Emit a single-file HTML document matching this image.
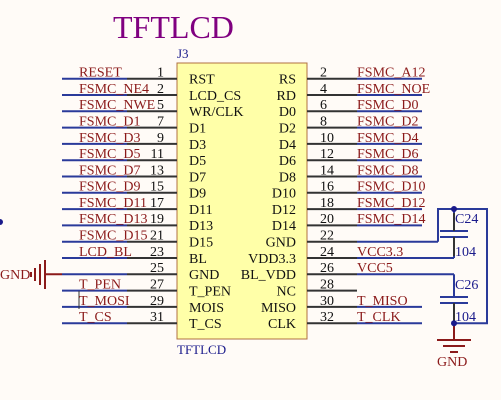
<!DOCTYPE html>
<html><head><meta charset="utf-8"><style>
html,body{margin:0;padding:0;background:#fffbf7;}
svg{display:block;}
text{font-family:"Liberation Serif",serif;font-size:14px;}
.n{fill:#8b1a1a;}
.p{fill:#111;}
.b{fill:#1a1a8b;}
</style></head><body>
<svg width="501" height="400" viewBox="0 0 501 400" xmlns="http://www.w3.org/2000/svg">
<rect width="501" height="400" fill="#fffbf7"/>
<text x="113" y="38" style="font-size:32px" fill="#800080">TFTLCD</text>
<text x="177" y="58" class="b" style="font-size:13px">J3</text>
<rect x="177" y="63" width="130" height="276" fill="#ffffa8" stroke="#b07040" stroke-width="1"/>
<text x="177" y="354" class="b" style="font-size:13px">TFTLCD</text>

<g stroke-width="2">
<!-- left wires -->
<g stroke="#2a3a9a">
<line x1="62" y1="78.7" x2="127" y2="78.7"/><line x1="62" y1="95" x2="127" y2="95"/><line x1="62" y1="111.3" x2="127" y2="111.3"/><line x1="62" y1="127.6" x2="127" y2="127.6"/><line x1="62" y1="143.9" x2="127" y2="143.9"/><line x1="62" y1="160.2" x2="127" y2="160.2"/><line x1="62" y1="176.5" x2="127" y2="176.5"/><line x1="62" y1="192.8" x2="127" y2="192.8"/><line x1="62" y1="209.1" x2="127" y2="209.1"/><line x1="62" y1="225.4" x2="127" y2="225.4"/><line x1="62" y1="241.7" x2="127" y2="241.7"/><line x1="62" y1="258" x2="127" y2="258"/><line x1="62" y1="274.3" x2="127" y2="274.3"/><line x1="62" y1="290.6" x2="127" y2="290.6"/><line x1="62" y1="306.9" x2="127" y2="306.9"/><line x1="62" y1="323.2" x2="127" y2="323.2"/>
</g>
<g stroke="#333">
<line x1="127" y1="78.7" x2="177" y2="78.7"/><line x1="127" y1="95" x2="177" y2="95"/><line x1="127" y1="111.3" x2="177" y2="111.3"/><line x1="127" y1="127.6" x2="177" y2="127.6"/><line x1="127" y1="143.9" x2="177" y2="143.9"/><line x1="127" y1="160.2" x2="177" y2="160.2"/><line x1="127" y1="176.5" x2="177" y2="176.5"/><line x1="127" y1="192.8" x2="177" y2="192.8"/><line x1="127" y1="209.1" x2="177" y2="209.1"/><line x1="127" y1="225.4" x2="177" y2="225.4"/><line x1="127" y1="241.7" x2="177" y2="241.7"/><line x1="127" y1="258" x2="177" y2="258"/><line x1="127" y1="274.3" x2="177" y2="274.3"/><line x1="127" y1="290.6" x2="177" y2="290.6"/><line x1="127" y1="306.9" x2="177" y2="306.9"/><line x1="127" y1="323.2" x2="177" y2="323.2"/>
<!-- right black -->
<line x1="307" y1="78.7" x2="357" y2="78.7"/><line x1="307" y1="95" x2="357" y2="95"/><line x1="307" y1="111.3" x2="357" y2="111.3"/><line x1="307" y1="127.6" x2="357" y2="127.6"/><line x1="307" y1="143.9" x2="357" y2="143.9"/><line x1="307" y1="160.2" x2="357" y2="160.2"/><line x1="307" y1="176.5" x2="357" y2="176.5"/><line x1="307" y1="192.8" x2="357" y2="192.8"/><line x1="307" y1="209.1" x2="357" y2="209.1"/><line x1="307" y1="225.4" x2="357" y2="225.4"/><line x1="307" y1="241.7" x2="357" y2="241.7"/><line x1="307" y1="258" x2="357" y2="258"/><line x1="307" y1="274.3" x2="357" y2="274.3"/><line x1="307" y1="290.6" x2="357" y2="290.6"/><line x1="307" y1="306.9" x2="357" y2="306.9"/><line x1="307" y1="323.2" x2="357" y2="323.2"/>
</g>
<g stroke="#2a3a9a">
<line x1="357" y1="78.7" x2="422" y2="78.7"/><line x1="357" y1="95" x2="422" y2="95"/><line x1="357" y1="111.3" x2="422" y2="111.3"/><line x1="357" y1="127.6" x2="422" y2="127.6"/><line x1="357" y1="143.9" x2="422" y2="143.9"/><line x1="357" y1="160.2" x2="422" y2="160.2"/><line x1="357" y1="176.5" x2="422" y2="176.5"/><line x1="357" y1="192.8" x2="422" y2="192.8"/><line x1="357" y1="209.1" x2="422" y2="209.1"/><line x1="357" y1="225.4" x2="422" y2="225.4"/>
<line x1="357" y1="241.7" x2="438" y2="241.7"/><line x1="357" y1="258" x2="454" y2="258"/><line x1="357" y1="274.3" x2="454" y2="274.3"/>
<line x1="357" y1="306.9" x2="422" y2="306.9"/><line x1="357" y1="323.2" x2="422" y2="323.2"/>
<!-- cap network -->
<polyline fill="none" points="438,241.7 438,209 487,209 487,323.2 454,323.2"/>
<line x1="454" y1="209" x2="454" y2="231"/><line x1="454" y1="237" x2="454" y2="258"/>
<line x1="440" y1="231" x2="468" y2="231"/><line x1="440" y1="237" x2="468" y2="237"/>
<line x1="454" y1="274.3" x2="454" y2="297"/><line x1="454" y1="303" x2="454" y2="323.2"/>
<line x1="440" y1="297" x2="468" y2="297"/><line x1="440" y1="303" x2="468" y2="303"/>
</g>
<g stroke="#333"><line x1="454" y1="213" x2="454" y2="231"/><line x1="454" y1="237" x2="454" y2="256"/><line x1="454" y1="303" x2="454" y2="322"/></g>
<!-- GND bottom right -->
<g stroke="#8b1a1a">
<line x1="454" y1="324" x2="454" y2="340"/><line x1="437" y1="340" x2="471" y2="340"/><line x1="443" y1="346" x2="465" y2="346"/><line x1="450" y1="352" x2="458" y2="352"/>
<!-- GND left -->
<line x1="45" y1="274.3" x2="62" y2="274.3"/><line x1="45" y1="260" x2="45" y2="289"/><line x1="40" y1="264" x2="40" y2="285"/><line x1="35" y1="268" x2="35" y2="281"/><line x1="31" y1="272" x2="31" y2="277"/>
</g>
<line x1="79" y1="291" x2="79" y2="309" stroke="#333" stroke-width="1"/>
</g>
<circle cx="454" cy="209" r="3" fill="#1a1a8b"/><circle cx="454" cy="323.2" r="3" fill="#1a1a8b"/>
<circle cx="0" cy="222" r="3" fill="#1a1a8b"/>
<text x="0" y="279" class="n">GND</text>
<text x="437" y="366" class="n">GND</text>
<text x="455" y="223" class="b">C24</text><text x="455" y="256" class="b">104</text>
<text x="455" y="289" class="b">C26</text><text x="455" y="321" class="b">104</text>

<!-- left net labels -->
<g class="n">
<text x="79" y="76.5">RESET</text><text x="79" y="93">FSMC_NE4</text><text x="79" y="109">FSMC_NWE</text><text x="79" y="125.5">FSMC_D1</text><text x="79" y="142">FSMC_D3</text><text x="79" y="158">FSMC_D5</text><text x="79" y="174.5">FSMC_D7</text><text x="79" y="190.5">FSMC_D9</text><text x="79" y="207">FSMC_D11</text><text x="79" y="223">FSMC_D13</text><text x="79" y="239.5">FSMC_D15</text><text x="79" y="256">LCD_BL</text><text x="79" y="288.5">T_PEN</text><text x="79" y="305">T_MOSI</text><text x="79" y="321">T_CS</text>
</g>
<g class="p" text-anchor="end">
<text x="164" y="76.5">1</text><text x="164" y="93">2</text><text x="164" y="109">5</text><text x="164" y="125.5">7</text><text x="164" y="142">9</text><text x="164" y="158">11</text><text x="164" y="174.5">13</text><text x="164" y="190.5">15</text><text x="164" y="207">17</text><text x="164" y="223">19</text><text x="164" y="239.5">21</text><text x="164" y="256">23</text><text x="164" y="272">25</text><text x="164" y="288.5">27</text><text x="164" y="305">29</text><text x="164" y="321">31</text>
</g>
<g class="p">
<text x="189" y="83.5">RST</text><text x="189" y="100">LCD_CS</text><text x="189" y="116">WR/CLK</text><text x="189" y="132.5">D1</text><text x="189" y="149">D3</text><text x="189" y="165">D5</text><text x="189" y="181.5">D7</text><text x="189" y="197.5">D9</text><text x="189" y="214">D11</text><text x="189" y="230">D13</text><text x="189" y="246.5">D15</text><text x="189" y="263">BL</text><text x="189" y="279">GND</text><text x="189" y="295.5">T_PEN</text><text x="189" y="312">MOIS</text><text x="189" y="328">T_CS</text>
</g>
<g class="p" text-anchor="end">
<text x="296" y="83.5">RS</text><text x="296" y="100">RD</text><text x="296" y="116">D0</text><text x="296" y="132.5">D2</text><text x="296" y="149">D4</text><text x="296" y="165">D6</text><text x="296" y="181.5">D8</text><text x="296" y="197.5">D10</text><text x="296" y="214">D12</text><text x="296" y="230">D14</text><text x="296" y="246.5">GND</text><text x="296" y="263">VDD3.3</text><text x="296" y="279">BL_VDD</text><text x="296" y="295.5">NC</text><text x="296" y="312">MISO</text><text x="296" y="328">CLK</text>
</g>
<g class="p">
<text x="320" y="76.5">2</text><text x="320" y="93">4</text><text x="320" y="109">6</text><text x="320" y="125.5">8</text><text x="320" y="142">10</text><text x="320" y="158">12</text><text x="320" y="174.5">14</text><text x="320" y="190.5">16</text><text x="320" y="207">18</text><text x="320" y="223">20</text><text x="320" y="239.5">22</text><text x="320" y="256">24</text><text x="320" y="272">26</text><text x="320" y="288.5">28</text><text x="320" y="305">30</text><text x="320" y="321">32</text>
</g>
<g class="n">
<text x="357" y="76.5">FSMC_A12</text><text x="357" y="93">FSMC_NOE</text><text x="357" y="109">FSMC_D0</text><text x="357" y="125.5">FSMC_D2</text><text x="357" y="142">FSMC_D4</text><text x="357" y="158">FSMC_D6</text><text x="357" y="174.5">FSMC_D8</text><text x="357" y="190.5">FSMC_D10</text><text x="357" y="207">FSMC_D12</text><text x="357" y="223">FSMC_D14</text><text x="357" y="256">VCC3.3</text><text x="357" y="272">VCC5</text><text x="357" y="305">T_MISO</text><text x="357" y="321">T_CLK</text>
</g>
</svg>
</body></html>
